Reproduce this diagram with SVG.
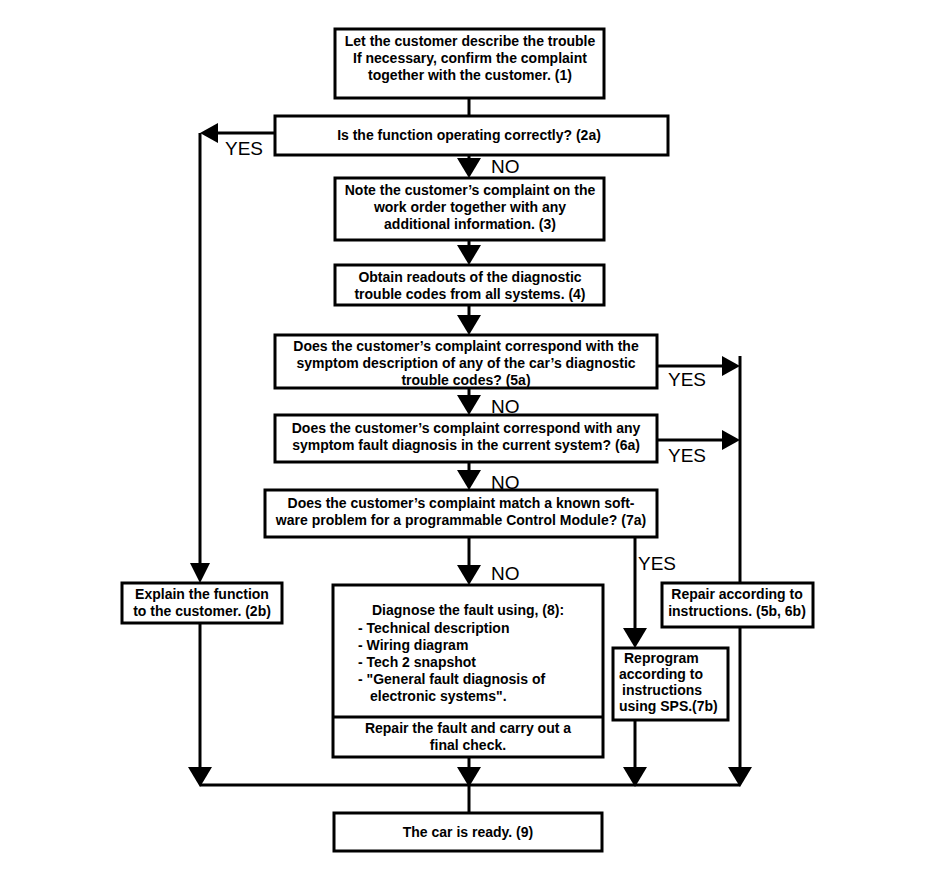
<svg xmlns="http://www.w3.org/2000/svg" width="944" height="894" viewBox="0 0 944 894">
<defs>
<style>
.box{fill:#fff;stroke:#000;stroke-width:3}
.ln{fill:none;stroke:#000;stroke-width:3}
.ar{fill:#000}
text{font-family:"Liberation Sans",Arial,sans-serif;font-size:14px;font-weight:bold;fill:#000}
.c{text-anchor:middle}
.lab{font-size:19px;font-weight:normal}
</style>
</defs>
<rect width="944" height="894" fill="#fff"/>
<g id="connectors">
<path class="ln" d="M469,98 V116"/>
<path class="ln" d="M275,133 H205 M200,133 V565"/>
<polygon class="ar" points="200,133 218,123 218,143"/>
<polygon class="ar" points="190,563 210,563 200,583"/>
<path class="ln" d="M469,155 V160"/>
<polygon class="ar" points="457,158 481,158 469,178"/>
<path class="ln" d="M469,240 V248"/>
<polygon class="ar" points="457,245 481,245 469,265"/>
<path class="ln" d="M469,305 V318"/>
<polygon class="ar" points="457,315 481,315 469,335"/>
<path class="ln" d="M469,388 V398"/>
<polygon class="ar" points="457,395 481,395 469,415"/>
<path class="ln" d="M469,462 V473"/>
<polygon class="ar" points="457,470 481,470 469,490"/>
<path class="ln" d="M469,537 V568"/>
<polygon class="ar" points="457,565 481,565 469,585"/>
<path class="ln" d="M657,366 H725"/>
<polygon class="ar" points="740,366 722,356 722,376"/>
<path class="ln" d="M657,440 H725"/>
<polygon class="ar" points="740,440 722,430 722,450"/>
<path class="ln" d="M740,356 V583"/>
<path class="ln" d="M635,537 V630"/>
<polygon class="ar" points="623,628 647,628 635,648"/>
<path class="ln" d="M200,623 V770"/>
<polygon class="ar" points="188,767 212,767 200,787"/>
<path class="ln" d="M469,757 V770"/>
<polygon class="ar" points="457,767 481,767 469,787"/>
<path class="ln" d="M635,720 V770"/>
<polygon class="ar" points="623,767 647,767 635,787"/>
<path class="ln" d="M740,627 V770"/>
<polygon class="ar" points="728,767 752,767 740,787"/>
<path class="ln" d="M200,785 H740"/>
<path class="ln" d="M469,785 V812"/>
<text class="lab" x="225" y="155">YES</text>
<text class="lab" x="491" y="173">NO</text>
<text class="lab" x="668" y="386">YES</text>
<text class="lab" x="491" y="413">NO</text>
<text class="lab" x="668" y="462">YES</text>
<text class="lab" x="491" y="489">NO</text>
<text class="lab" x="638" y="570">YES</text>
<text class="lab" x="491" y="580">NO</text>
</g>
<g id="n1">
<rect class="box" x="335" y="29" width="269" height="69"/>
<text class="c" x="470" y="46">Let the customer describe the trouble</text>
<text class="c" x="470" y="63">If necessary, confirm the complaint</text>
<text class="c" x="470" y="80">together with the customer. (1)</text>
</g>
<g id="n2a">
<rect class="box" x="275" y="116" width="393" height="39"/>
<text class="c" x="469" y="140">Is the function operating correctly?  (2a)</text>
</g>
<g id="n3">
<rect class="box" x="335" y="178" width="269" height="62"/>
<text class="c" x="470" y="195">Note the customer’s complaint on the</text>
<text class="c" x="470" y="212">work order together with any</text>
<text class="c" x="470" y="229">additional information.  (3)</text>
</g>
<g id="n4">
<rect class="box" x="335" y="265" width="269" height="40"/>
<text class="c" x="470" y="282">Obtain readouts of the diagnostic</text>
<text class="c" x="470" y="299">trouble codes from all systems. (4)</text>
</g>
<g id="n5a">
<rect class="box" x="275" y="335" width="382" height="53"/>
<text class="c" x="466" y="351">Does the customer’s complaint correspond with the</text>
<text class="c" x="466" y="368">symptom description of any of the car’s diagnostic</text>
<text class="c" x="466" y="385">trouble codes? (5a)</text>
</g>
<g id="n6a">
<rect class="box" x="275" y="415" width="382" height="47"/>
<text class="c" x="466" y="433">Does the customer’s complaint correspond with any</text>
<text class="c" x="466" y="450">symptom fault diagnosis in the current system? (6a)</text>
</g>
<g id="n7a">
<rect class="box" x="265" y="490" width="392" height="47"/>
<text class="c" x="461" y="508">Does the customer’s complaint match a known soft-</text>
<text class="c" x="461" y="525">ware problem for a programmable Control Module? (7a)</text>
</g>
<g id="n2b">
<rect class="box" x="122" y="583" width="160" height="40"/>
<text class="c" x="202" y="599">Explain the function</text>
<text class="c" x="202" y="616">to the customer. (2b)</text>
</g>
<g id="n8">
<rect class="box" x="333" y="585" width="270" height="172"/>
<path class="ln" d="M333,717 H603"/>
<text x="372" y="615">Diagnose the fault using, (8):</text>
<text x="358" y="633">-  Technical description</text>
<text x="358" y="650">-  Wiring diagram</text>
<text x="358" y="667">-  Tech 2 snapshot</text>
<text x="358" y="684">-  "General fault diagnosis of</text>
<text x="370" y="701">electronic systems".</text>
<text class="c" x="468" y="733">Repair the fault and carry out a</text>
<text class="c" x="468" y="750">final check.</text>
</g>
<g id="n5b">
<rect class="box" x="662" y="583" width="151" height="44"/>
<text class="c" x="737" y="599">Repair according to</text>
<text class="c" x="737" y="616">instructions. (5b, 6b)</text>
</g>
<g id="n7b">
<rect class="box" x="613" y="648" width="115" height="72"/>
<text x="624" y="663">Reprogram</text>
<text x="619" y="679">according to</text>
<text x="622" y="695">instructions</text>
<text x="619" y="711">using SPS.(7b)</text>
</g>
<g id="n9">
<rect class="box" x="334" y="813" width="268" height="38"/>
<text class="c" x="468" y="837">The car is ready. (9)</text>
</g>
</svg>
